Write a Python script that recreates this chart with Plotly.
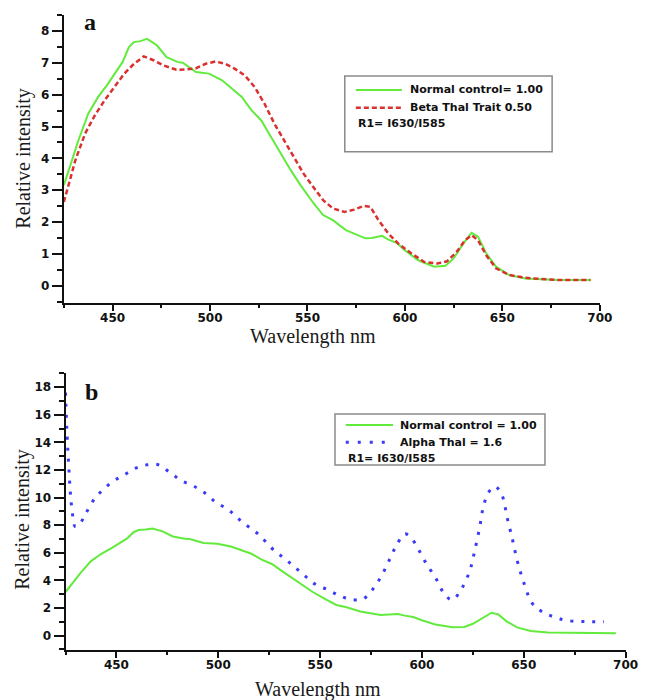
import plotly.graph_objects as go

# ---------------- data ----------------
# Normal control (same curve in both panels)
normal_wl = [425, 432.5, 437.5, 442.6, 447.6, 455.1, 458.4, 460.9, 464.3, 467.7, 472.7, 477.7,
             483.6, 486, 492.8, 497, 499.5, 506.2, 511.2, 516.3, 521.3, 526.3, 531.3, 536.3,
             541.4, 546.4, 553, 558, 563, 569.7, 579.7, 583, 588.2, 591.5, 595.8, 599.9, 606.6,
             615, 620.8, 625, 630, 634.2, 637.5, 641.7, 646.7, 653.4, 661.8, 678.5, 695.2]
normal_int = [3.16, 4.57, 5.40, 5.93, 6.34, 7.02, 7.49, 7.65, 7.68, 7.75, 7.55, 7.18,
              7.02, 7.00, 6.71, 6.68, 6.66, 6.45, 6.19, 5.93, 5.51, 5.19, 4.67, 4.15,
              3.63, 3.16, 2.60, 2.22, 2.06, 1.75, 1.49, 1.50, 1.57, 1.45, 1.35, 1.12, 0.81,
              0.60, 0.63, 0.86, 1.33, 1.66, 1.54, 1.02, 0.60, 0.34, 0.23, 0.18, 0.18]

# Beta Thal Trait (panel a)
beta_wl = [425, 430.9, 435.9, 440.9, 445.9, 451, 456, 461, 466, 471, 476, 482.7, 487.7, 492.8,
           497.8, 502.8, 507.8, 512.8, 517.9, 522.9, 527.9, 533, 538, 543, 548, 553, 558, 563,
           568.9, 573.9, 578.9, 582.3, 586.4, 591.5, 596.5, 603.2, 609.9, 616.6, 621.6, 626.6,
           630.8, 634.2, 637.5, 641.7, 646.7, 653.4, 661.8, 678.5, 695.2]
beta_int = [2.63, 3.94, 4.78, 5.35, 5.82, 6.24, 6.66, 6.97, 7.20, 7.08, 6.92, 6.78, 6.79, 6.83,
            6.97, 7.04, 6.97, 6.81, 6.60, 6.24, 5.72, 5.09, 4.57, 4.04, 3.52, 3.10, 2.69, 2.43,
            2.32, 2.39, 2.51, 2.48, 2.06, 1.64, 1.33, 1.02, 0.75, 0.70, 0.77, 1.07,
            1.43, 1.59, 1.43, 0.96, 0.55, 0.34, 0.25, 0.18, 0.18]

# Alpha Thal (panel b)
alpha_wl = [425, 425.8, 426.6, 427.4, 428.2, 429.8, 432.2, 434.6, 439.4, 443.4, 448.2, 453.8,
            459.4, 465, 470.7, 476.3, 481.9, 488.3, 493.9, 498.7, 505.1, 511.5, 519.5, 527.5,
            532.4, 537.2, 542, 546.8, 553.2, 558.8, 564.4, 570.8, 575.6, 580.4, 584.4, 587.6,
            591.6, 594.8, 598, 602, 606.8, 610.8, 614.8, 619.6, 623.6, 626, 628.4, 630, 632.5,
            635.7, 638.9, 642.1, 644.5, 646.9, 650.1, 654.1, 658.9, 665.3, 671.7, 683, 689.4]
alpha_int = [17.6, 14.4, 12.25, 10.3, 9.11, 7.9, 8.14, 8.75, 9.95, 10.56, 11.16, 11.64,
             12.13, 12.37, 12.37, 11.81, 11.23, 10.80, 10.27, 9.67, 9.11, 8.26, 7.37, 6.16,
             5.61, 5.00, 4.40, 3.80, 3.36, 2.95, 2.64, 2.64, 3.31, 4.40, 5.61, 6.57,
             7.37, 7.06, 6.33, 5.25, 4.16, 3.07, 2.59, 3.43, 4.76, 6.21, 7.90, 9.23, 10.32,
             10.80, 10.32, 8.38, 6.93, 5.36, 3.80, 2.35, 1.74, 1.33, 1.09, 1.01, 1.01]

x_ticks = [450, 500, 550, 600, 650, 700]
ya_ticks = [0, 1, 2, 3, 4, 5, 6, 7, 8]
yb_ticks = [0, 2, 4, 6, 8, 10, 12, 14, 16, 18]

legend_a = ["Normal control= 1.00", "Beta Thal Trait 0.50", "R1= I630/I585"]
legend_b = ["Normal control = 1.00", "Alpha Thal = 1.6", "R1= I630/I585"]

GREEN = "#62ea3c"
RED = "#d8312f"
BLUE = "#3b3bf5"

# page body has an 8px default margin -> make the figure smaller and shift coordinates
OFF = 8
W, H = 654 - OFF, 700 - OFF


def px(x):
    return (x - OFF) / W


def py(y):
    return 1 - (y - OFF) / H


fig = go.Figure()
fig.add_trace(go.Scatter(x=normal_wl, y=normal_int, mode="lines", line=dict(color=GREEN, width=2),
                         xaxis="x", yaxis="y", name=legend_a[0]))
fig.add_trace(go.Scatter(x=beta_wl, y=beta_int, mode="lines",
                         line=dict(color=RED, width=2.5, dash="5px,3px"),
                         xaxis="x", yaxis="y", name=legend_a[1]))
fig.add_trace(go.Scatter(x=normal_wl, y=normal_int, mode="lines", line=dict(color=GREEN, width=2),
                         xaxis="x2", yaxis="y2", name=legend_b[0]))
fig.add_trace(go.Scatter(x=alpha_wl, y=alpha_int, mode="lines", line_shape="spline",
                         line=dict(color=BLUE, width=3, dash="3px,8px"),
                         xaxis="x2", yaxis="y2", name=legend_b[1]))

tickfont = dict(family="DejaVu Sans, Verdana, sans-serif", size=12, color="#111", weight="bold")
axcommon = dict(showline=True, linecolor="#111", linewidth=2, ticks="outside", tickwidth=1.5,
                tickcolor="#111", showgrid=False, zeroline=False, tickfont=tickfont, mirror=False)
xminor = dict(ticks="outside", ticklen=3, dtick=25, tick0=425, tickcolor="#111", tickwidth=1.5)

fig.update_layout(
    width=W, height=H, margin=dict(l=0, r=0, t=0, b=0),
    paper_bgcolor="white", plot_bgcolor="white", showlegend=False,
    xaxis=dict(domain=[px(65), px(612)], anchor="y", range=[425, 700], tickvals=x_ticks,
               ticklen=6, ticklabelstandoff=-3, minor=xminor, **axcommon),
    yaxis=dict(domain=[py(302.7), py(15)], anchor="x", range=[-0.53, 8.5], tickvals=ya_ticks,
               ticklen=10, minor=dict(ticks="outside", ticklen=5, dtick=0.5, tick0=0,
                                      tickcolor="#111", tickwidth=1.5), **axcommon),
    xaxis2=dict(domain=[px(66.7), px(638.3)], anchor="y2", range=[425, 700], tickvals=x_ticks,
                ticklen=6, ticklabelstandoff=-3, minor=xminor, **axcommon),
    yaxis2=dict(domain=[py(650), py(373.3)], anchor="x2", range=[-1.04, 19], tickvals=yb_ticks,
                ticklen=10, minor=dict(ticks="outside", ticklen=5, dtick=1, tick0=0,
                                       tickcolor="#111", tickwidth=1.5), **axcommon),
)

serif = "Liberation Serif, Times New Roman, serif"
sans = "DejaVu Sans, Verdana, sans-serif"
annots = [
    dict(x=px(92), y=py(22), text="<b>a</b>", font=dict(family=serif, size=24, color="#111")),
    dict(x=px(93), y=py(392), text="<b>b</b>", font=dict(family=serif, size=24, color="#111")),
    dict(x=px(24), y=py(158), text="Relative intensity", textangle=-90,
         font=dict(family=serif, size=20, color="#1a1a1a")),
    dict(x=px(22), y=py(519), text="Relative intensity", textangle=-90,
         font=dict(family=serif, size=20, color="#1a1a1a")),
    dict(x=px(319), y=py(336), text="Wavelength nm", font=dict(family=serif, size=20, color="#1a1a1a")),
    dict(x=px(324), y=py(689), text="Wavelength nm", font=dict(family=serif, size=20, color="#1a1a1a")),
]
# legend texts
for txt, yy, xx in zip(legend_a, [90, 107.7, 124], [416.7, 416.7, 363]):
    annots.append(dict(x=px(xx), y=py(yy), text=txt, xanchor="left",
                       font=dict(family=sans, size=11, color="#111", weight="bold")))
for txt, yy, xx in zip(legend_b, [425, 442.3, 458.3], [406, 406, 352.7]):
    annots.append(dict(x=px(xx), y=py(yy), text=txt, xanchor="left",
                       font=dict(family=sans, size=11, color="#111", weight="bold")))
for a in annots:
    a.setdefault("xanchor", "center")
    a.update(xref="paper", yref="paper", yanchor="middle", showarrow=False)
fig.update_layout(annotations=annots)

shapes = [
    dict(type="rect", x0=px(351.7), x1=px(563.3), y0=py(151.7), y1=py(76),
         line=dict(color="#8a8a8a", width=1.5)),
    dict(type="line", x0=px(363), x1=px(410), y0=py(90), y1=py(90), line=dict(color=GREEN, width=2)),
    dict(type="line", x0=px(363), x1=px(410), y0=py(107.7), y1=py(107.7),
         line=dict(color=RED, width=2.5, dash="5px,3px")),
    dict(type="rect", x0=px(341.7), x1=px(556), y0=py(465), y1=py(414),
         line=dict(color="#8a8a8a", width=1.5)),
    dict(type="line", x0=px(352.7), x1=px(401), y0=py(425), y1=py(425), line=dict(color=GREEN, width=2)),
    dict(type="line", x0=px(352.7), x1=px(401), y0=py(442.3), y1=py(442.3),
         line=dict(color=BLUE, width=3, dash="3px,9px")),
]
for s in shapes:
    s.update(xref="paper", yref="paper")
fig.update_layout(shapes=shapes)

fig.write_html("out.html")
